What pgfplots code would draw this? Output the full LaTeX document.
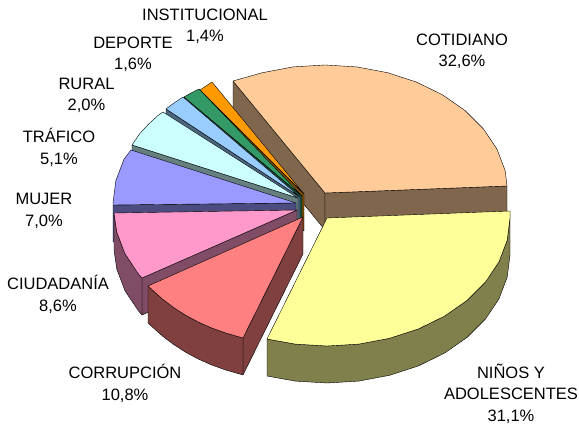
\documentclass[border=0pt]{standalone}
\usepackage{fontspec}
\setmainfont{Liberation Sans}
\usepackage{pgfplots}
\pgfplotsset{compat=1.18}
\definecolor{pe}{HTML}{FFCC99}\definecolor{peD}{HTML}{80664C}
\definecolor{ye}{HTML}{FFFF99}\definecolor{yeD}{HTML}{80804C}
\definecolor{re}{HTML}{FF8080}\definecolor{reD}{HTML}{804040}
\definecolor{pi}{HTML}{FF99CC}\definecolor{piD}{HTML}{804C66}
\definecolor{pu}{HTML}{9999FF}\definecolor{puD}{HTML}{4C4C80}
\definecolor{cy}{HTML}{CCFFFF}\definecolor{cyD}{HTML}{668080}
\definecolor{bl}{HTML}{99CCFF}\definecolor{blD}{HTML}{4C6680}
\definecolor{gr}{HTML}{339966}\definecolor{grD}{HTML}{1A4D33}
\definecolor{or}{HTML}{FF9900}\definecolor{orD}{HTML}{804C00}
\tikzset{lab/.style={align=center,anchor=center,font=\fontsize{16.5}{21.5}\selectfont,text=black,inner sep=0pt}}
\begin{document}
\begin{tikzpicture}
\begin{axis}[scale only axis,width=579pt,height=427pt,xmin=0,xmax=579,ymin=0,ymax=427,y dir=reverse,
 axis lines=none,clip=false,no markers,
 every axis plot/.append style={draw=black,line width=0.4pt,line join=round}]
\path (axis cs:0,0) (axis cs:579,427);
% COTIDIANO
\addplot[fill=peD] coordinates {(233,81)(325,193)(325,230)(233,118)} --cycle;
\addplot[fill=peD] coordinates {(325,193)(507,186)(507,223)(325,230)} --cycle;
\addplot[fill=pe] coordinates {(325,193)(507,186)(505.2,170.8)(497,149.2)(483.5,129)(465.2,110.7)(442.6,94.9)(416.5,82.1)(387.6,72.7)(356.8,66.9)(325,65)(293.2,66.9)(262.4,72.7)(233,81)} --cycle;
% INSTITUCIONAL
\addplot[fill=orD] coordinates {(304,194)(200,90)(200,127)(304,231)} --cycle;
\addplot[fill=or] coordinates {(304,194)(200,90)(206,86)(212,82)} --cycle;
% DEPORTE
\addplot[fill=grD] coordinates {(302,196)(184,97)(184,134)(302,233)} --cycle;
\addplot[fill=gr] coordinates {(302,196)(184,97)(191,93)(199,89)} --cycle;
% RURAL
\addplot[fill=blD] coordinates {(300,197)(166,109)(166,146)(300,234)} --cycle;
\addplot[fill=bl] coordinates {(300,197)(166,109)(174,103)(183,97)} --cycle;
% TRAFICO
\addplot[fill=cyD] coordinates {(298,198)(132,145)(132,182)(298,235)} --cycle;
\addplot[fill=cy] coordinates {(298,198)(132,145)(139.5,134)(148.1,124.6)(157.8,115.7)(163,112)} --cycle;
% MUJER
\addplot[fill=puD] coordinates {(296,203)(113,205)(113,242)(296,240)} --cycle;
\addplot[fill=pu] coordinates {(296,203)(113,205)(113,203)(115.8,180.8)(124,159.2)(131,150)} --cycle;
% CIUDADANIA
\addplot[fill=piD] coordinates {(297,210)(142,278)(142,315)(297,247)} --cycle;
\addplot[fill=piD] coordinates {(142,278)(138.5,274)(125,253.8)(116.8,232.2)(114,213)(114,250)(116.8,269.2)(125,290.8)(138.5,311)(142,315)} --cycle;
\addplot[fill=pi] coordinates {(297,210)(142,278)(138.5,274)(125,253.8)(116.8,232.2)(114,213)} --cycle;
% NINOS
\addplot[fill=yeD] coordinates {(510,211)(510,218)(507.2,240.2)(499,261.8)(485.5,282)(467.2,300.3)(444.6,316.1)(418.5,328.9)(389.6,338.3)(358.8,344.1)(327,346)(295.2,344.1)(267,339)(267,376)(295.2,381.1)(327,383)(358.8,381.1)(389.6,375.3)(418.5,365.9)(444.6,353.1)(467.2,337.3)(485.5,319)(499,298.8)(507.2,277.2)(510,255)} --cycle;
\addplot[fill=ye] coordinates {(327,218)(510,211)(510,218)(507.2,240.2)(499,261.8)(485.5,282)(467.2,300.3)(444.6,316.1)(418.5,328.9)(389.6,338.3)(358.8,344.1)(327,346)(295.2,344.1)(267,339)} --cycle;
% CORRUPCION
\addplot[fill=reD] coordinates {(303,217)(243,338)(243,375)(303,254)} --cycle;
\addplot[fill=reD] coordinates {(243,338)(225.7,333)(211.5,327.9)(198,321.9)(185.4,315.1)(173.6,307.5)(162.8,299.3)(156.8,294)(148,286)(148,323)(156.8,331)(162.8,336.3)(173.6,344.5)(185.4,352.1)(198,358.9)(211.5,364.9)(225.7,370)(243,375)} --cycle;
\addplot[fill=re] coordinates {(303,217)(243,338)(225.7,333)(211.5,327.9)(198,321.9)(185.4,315.1)(173.6,307.5)(162.8,299.3)(156.8,294)(148,286)} --cycle;
% labels
\node[lab] at (axis cs:462,51.5) {COTIDIANO\\32,6\%};
\node[lab] at (axis cs:511,393.5) {NIÑOS Y\\ADOLESCENTES\\31,1\%};
\node[lab] at (axis cs:125,383.5) {CORRUPCIÓN\\10,8\%};
\node[lab] at (axis cs:58,294.5) {CIUDADANÍA\\8,6\%};
\node[lab] at (axis cs:44,211) {MUJER\\7,0\%};
\node[lab] at (axis cs:59,147.5) {TRÁFICO\\5,1\%};
\node[lab] at (axis cs:86.5,95.5) {RURAL\\2,0\%};
\node[lab] at (axis cs:133,54.5) {DEPORTE\\1,6\%};
\node[lab] at (axis cs:205,26.5) {INSTITUCIONAL\\1,4\%};
\end{axis}
\end{tikzpicture}
\end{document}
